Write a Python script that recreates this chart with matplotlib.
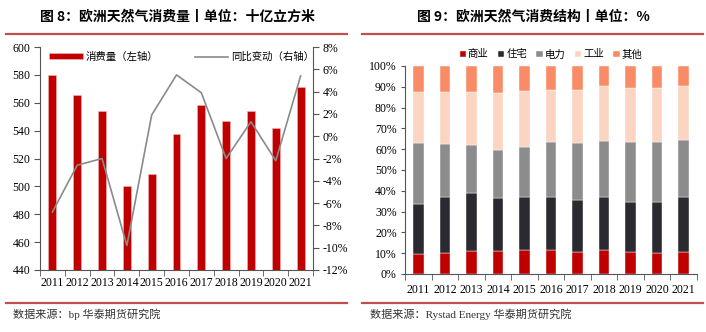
import numpy as np
import matplotlib
matplotlib.use('Agg')
import matplotlib.pyplot as plt
from matplotlib.lines import Line2D
from matplotlib.ticker import FuncFormatter

plt.rcParams['font.family'] = ['Liberation Serif', 'Noto Sans CJK SC']
plt.rcParams['axes.unicode_minus'] = False

# ---- data ----
years = ['2011', '2012', '2013', '2014', '2015', '2016', '2017', '2018', '2019', '2020', '2021']
consumption = [580, 565.5, 554, 500, 509, 537.5, 558.5, 547, 554, 542, 571]
yoy = [-6.8, -2.6, -2.0, -9.8, 1.9, 5.5, 3.9, -2.0, 1.3, -2.2, 5.4]

sectors = ['商业', '住宅', '电力', '工业', '其他']
commercial = [9.8, 10.3, 11.2, 11.2, 11.7, 11.3, 10.8, 11.6, 10.4, 9.9, 10.8]
residential = [24.0, 26.6, 27.6, 25.2, 25.5, 25.6, 24.7, 25.2, 24.2, 24.7, 26.1]
power = [29.1, 25.6, 23.1, 23.4, 24.0, 26.5, 27.6, 27.2, 28.8, 28.7, 27.5]
industry = [24.6, 24.9, 25.8, 27.4, 26.6, 25.2, 25.6, 26.2, 25.8, 25.9, 26.1]
other = [12.5, 12.6, 12.3, 12.8, 12.2, 11.4, 11.3, 9.8, 10.8, 10.8, 9.5]

sector_colors = ['#C00000', '#2B2A30', '#8C8C8C', '#FBD5C2', '#F98C66']
red_line = '#C0504D'
cjk = ['Noto Sans CJK SC', 'DejaVu Sans']

fig = plt.figure(figsize=(7.06, 3.32), dpi=100)
x = np.arange(len(years))

# ---------------- left chart ----------------
ax1 = fig.add_axes([40 / 706, 1 - 270 / 332, 273 / 706, 223 / 332])
bars = ax1.bar(x, consumption, width=0.32, color='#C00000', edgecolor='#F2B8B8',
               linewidth=0.4, label='消费量（左轴）', zorder=2)
ax1.set_ylim(440, 600)
ax1.set_yticks(np.arange(440, 601, 20))
ax1.set_xlim(-0.5, len(years) - 0.5)
ax1.set_xticks(x)
ax1.set_xticklabels(years)
ax1.set_xticks(np.arange(-0.5, len(years), 1), minor=True)
ax1.tick_params(axis='x', which='major', length=0, labelsize=8.5, pad=5)
ax1.tick_params(axis='x', which='minor', length=4, direction='out', color='#555555')
ax1.tick_params(axis='y', labelsize=8.5, length=4, color='#555555', pad=3)
ax1.spines['top'].set_visible(False)
ax1.spines['right'].set_visible(False)
for s in ['left', 'bottom']:
    ax1.spines[s].set_color('#555555')
    ax1.spines[s].set_linewidth(0.8)

ax2 = ax1.twinx()
line, = ax2.plot(x, yoy, color='#8A8A8A', linewidth=1.2, label='同比变动（右轴）', zorder=3)
ax2.set_ylim(-12, 8)
ax2.set_yticks(np.arange(-12, 9, 2))
ax2.yaxis.set_major_formatter(FuncFormatter(lambda v, p: f'{int(v)}%'))
ax2.tick_params(axis='y', labelsize=8.5, length=4, color='#555555', pad=3)
ax2.spines['top'].set_visible(False)
ax2.spines['left'].set_visible(False)
ax2.spines['bottom'].set_visible(False)
ax2.spines['right'].set_color('#555555')
ax2.spines['right'].set_linewidth(0.8)

leg1 = ax1.legend([bars, line], ['消费量（左轴）', '同比变动（右轴）'], loc='upper center',
                  bbox_to_anchor=(0.52, 1.02), ncol=2, frameon=False,
                  prop={'family': cjk, 'size': 7.5}, handlelength=3.2, handleheight=0.5,
                  columnspacing=3.5, handletextpad=0.3)

fig.text(177 / 706, 1 - 17 / 332, '图 8：欧洲天然气消费量丨单位：十亿立方米', ha='center', va='center',
         fontsize=10, fontweight='bold', family=cjk)
fig.add_artist(Line2D([6 / 706, 347 / 706], [1 - 34 / 332] * 2, color=red_line, linewidth=1.6))
fig.add_artist(Line2D([6 / 706, 347 / 706], [1 - 303 / 332] * 2, color=red_line, linewidth=1.6))
fig.text(13 / 706, 1 - 314 / 332, '数据来源：bp 华泰期货研究院', ha='left', va='center', fontsize=8,
         color='#333333')

# ---------------- right chart ----------------
ax3 = fig.add_axes([405 / 706, 1 - 274 / 332, 292 / 706, 208 / 332])
bottom = np.zeros(len(years))
handles = []
for name, vals, col in zip(sectors, [commercial, residential, power, industry, other], sector_colors):
    b = ax3.bar(x, vals, bottom=bottom, width=0.4, color=col, edgecolor='white', linewidth=0.3,
                label=name)
    handles.append(b)
    bottom = bottom + np.array(vals)
ax3.set_ylim(0, 100)
ax3.set_yticks(np.arange(0, 101, 10))
ax3.yaxis.set_major_formatter(FuncFormatter(lambda v, p: f'{int(v)}%'))
ax3.set_xlim(-0.5, len(years) - 0.5)
ax3.set_xticks(x)
ax3.set_xticklabels(years)
ax3.set_xticks(np.arange(-0.5, len(years), 1), minor=True)
ax3.tick_params(axis='x', which='major', length=0, labelsize=8.5, pad=7)
ax3.tick_params(axis='x', which='minor', length=4, direction='out', color='#555555')
ax3.tick_params(axis='y', labelsize=8.5, length=3, color='#555555', pad=3)
ax3.spines['top'].set_visible(False)
ax3.spines['right'].set_visible(False)
for s in ['left', 'bottom']:
    ax3.spines[s].set_color('#555555')
    ax3.spines[s].set_linewidth(0.8)

ax3.legend(handles, sectors, loc='upper center', bbox_to_anchor=(0.5, 1.125), ncol=5,
           frameon=False, prop={'family': cjk, 'size': 7.5}, handlelength=0.6, handleheight=0.6,
           columnspacing=0.9, handletextpad=0.2)

fig.text(533 / 706, 1 - 17 / 332, '图 9：欧洲天然气消费结构丨单位：%', ha='center', va='center',
         fontsize=10, fontweight='bold', family=cjk)
fig.add_artist(Line2D([362 / 706, 703 / 706], [1 - 34 / 332] * 2, color=red_line, linewidth=1.6))
fig.add_artist(Line2D([362 / 706, 703 / 706], [1 - 303 / 332] * 2, color=red_line, linewidth=1.6))
fig.text(370 / 706, 1 - 314 / 332, '数据来源：Rystad Energy 华泰期货研究院', ha='left', va='center',
         fontsize=8, color='#333333')

fig.savefig('out.png', dpi=100)
